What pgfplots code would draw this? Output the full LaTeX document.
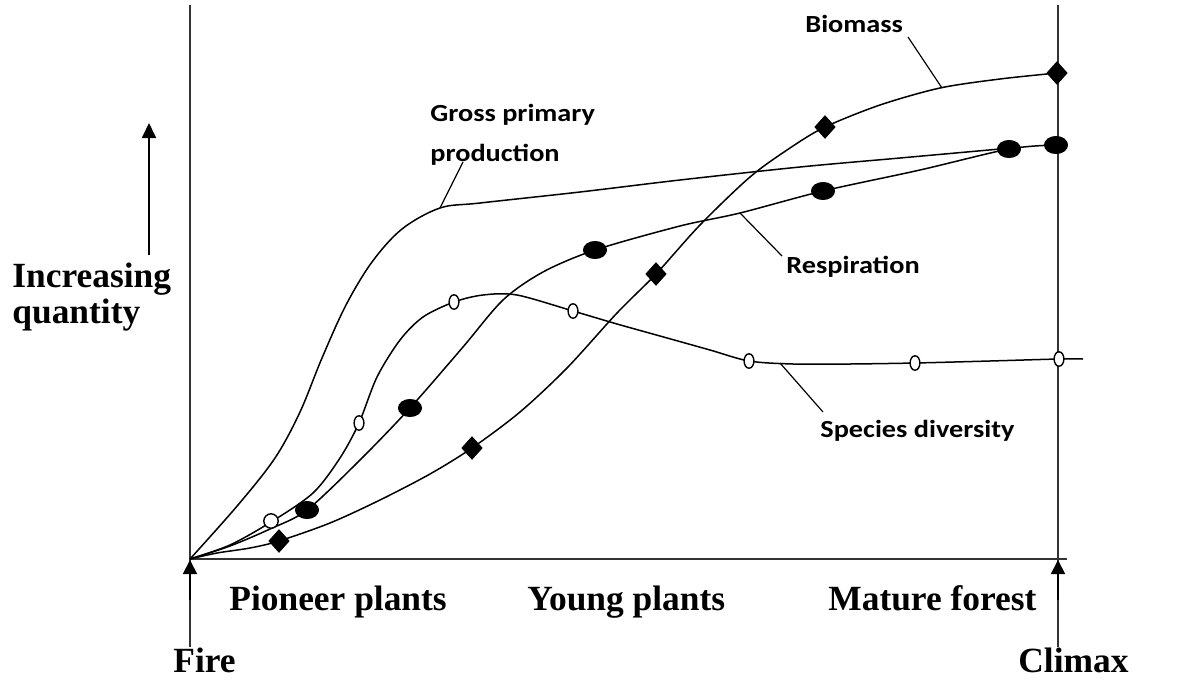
\documentclass[border=0pt]{standalone}
\usepackage{pgfplots}
\pgfplotsset{compat=1.18}
\usepackage{fontspec}
\setmainfont{Liberation Serif}
\newfontfamily\lab[FakeStretch=1.15]{Carlito}
\usetikzlibrary{arrows.meta}
\begin{document}
\begin{tikzpicture}
\begin{axis}[
  scale only axis, width=598pt, height=340.5pt,
  xmin=0, xmax=1196, ymin=0, ymax=681, y dir=reverse,
  hide axis, clip=false,
]
\path (rel axis cs:0,0) rectangle (rel axis cs:1,1);
% axes
\addplot[line width=1pt, color=black!80] coordinates {(190,5) (190,647)};
\addplot[line width=1pt, color=black!80] coordinates {(1058,5) (1058,647)};
\addplot[line width=1pt, color=black!80] coordinates {(190,559) (1067,559)};
\addplot[line width=0.9pt, -{Triangle[width=7pt,length=7pt]}] coordinates {(190,600) (190,560)};
\addplot[line width=0.9pt, -{Triangle[width=7pt,length=7pt]}] coordinates {(1058,600) (1058,560)};
\addplot[line width=0.9pt, -{Triangle[width=7pt,length=7.5pt]}] coordinates {(149,255) (149,123)};
% Gross primary production
\addplot[line width=0.75pt, smooth, tension=0.55] coordinates {
(190,559) (238,505) (275,458) (300,412) (322,358) (346,305) (372,262)
(402,229) (440,208) (480,203) (580,192) (680,180) (800,167)
(900,158) (1000,149)};
% Biomass
\addplot[line width=0.75pt, smooth, tension=0.5] coordinates {
(190,559) (217,553) (250,548) (279,541) (330,523) (380,500) (430,474) (472,448)
(520,412) (567,368) (617,313) (656,274) (700,225) (750,177) (790,148) (825,127)
(880,105) (940,88) (1000,79) (1057,73)};
% Respiration
\addplot[line width=0.75pt, smooth, tension=0.5] coordinates {
(190,559) (230,546) (270,529) (307,510) (360,460) (410,408) (463,347) (503,300)
(543,272) (595,250) (680,226) (740,213) (823,191) (920,170) (1009,149) (1056,145)};
% Species diversity
\addplot[line width=0.75pt, smooth, tension=0.5] coordinates {
(190,559) (230,545) (271,522) (313,493) (340,458) (359,423) (377,377) (400,340)
(423,317) (454,302) (483,295) (517,295) (573,311) (617,324) (660,336) (710,350)
(749,361) (793,364) (850,364) (915,363) (990,361) (1059,359) (1083,359)};
% leaders
\addplot[line width=0.6pt] coordinates {(463,162) (440,208)};
\addplot[line width=0.6pt] coordinates {(908,37) (942,88)};
\addplot[line width=0.6pt] coordinates {(740,213) (782,256)};
\addplot[line width=0.6pt] coordinates {(780,363) (823,412)};
% markers
\addplot[only marks, mark=diamond*, mark size=5.6pt, mark options={xscale=1.2, fill=black}] coordinates {
(279,541) (472,448) (656,274) (825,127) (1057,73)};
\addplot[only marks, mark=*, mark size=4.3pt, mark options={xscale=1.35, fill=black}] coordinates {
(307,510) (410,408) (595,250) (823,191) (1009,149) (1056,145)};
\addplot[only marks, mark=*, mark size=3.6pt, mark options={fill=white, draw=black, line width=0.7pt}] coordinates {
(271,521)};
\addplot[only marks, mark=*, mark size=3.6pt, mark options={xscale=0.68, fill=white, draw=black, line width=0.7pt}] coordinates {
(359,423) (454,302) (573,311) (749,361) (915,363) (1059,359)};
% labels
\node[anchor=base west, inner sep=0pt, font=\lab\bfseries\fontsize{12.3}{14}\selectfont] at (axis cs:805,32) {Biomass};
\node[anchor=base west, inner sep=0pt, font=\lab\bfseries\fontsize{12.3}{14}\selectfont] at (axis cs:430,121) {Gross primary};
\node[anchor=base west, inner sep=0pt, font=\lab\bfseries\fontsize{12.3}{14}\selectfont] at (axis cs:430,161) {production};
\node[anchor=base west, inner sep=0pt, font=\lab\bfseries\fontsize{12.3}{14}\selectfont] at (axis cs:786,273) {Respiration};
\node[anchor=base west, inner sep=0pt, font=\lab\bfseries\fontsize{12.3}{14}\selectfont] at (axis cs:820,437) {Species diversity};
\node[anchor=base west, inner sep=0pt, font=\bfseries\fontsize{17.7}{20}\selectfont] at (axis cs:12,287) {Increasing};
\node[anchor=base west, inner sep=0pt, font=\bfseries\fontsize{17.7}{20}\selectfont] at (axis cs:12,323) {quantity};
\node[anchor=base west, inner sep=0pt, font=\bfseries\fontsize{17.7}{20}\selectfont] at (axis cs:229,610) {Pioneer plants};
\node[anchor=base west, inner sep=0pt, font=\bfseries\fontsize{17.7}{20}\selectfont] at (axis cs:527,610) {Young plants};
\node[anchor=base west, inner sep=0pt, font=\bfseries\fontsize{17.7}{20}\selectfont] at (axis cs:828,610) {Mature forest};
\node[anchor=base west, inner sep=0pt, font=\bfseries\fontsize{17.7}{20}\selectfont] at (axis cs:173,672) {Fire};
\node[anchor=base west, inner sep=0pt, font=\bfseries\fontsize{17.7}{20}\selectfont] at (axis cs:1018,672) {Climax};
\end{axis}
\end{tikzpicture}
\end{document}
